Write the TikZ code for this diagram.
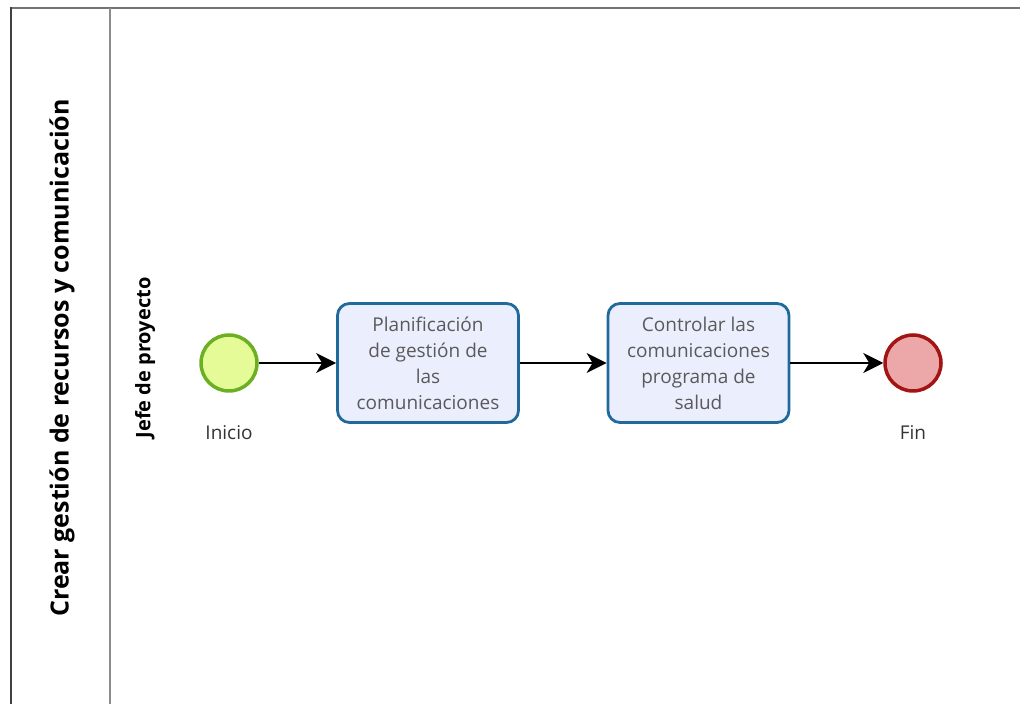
\documentclass[tikz,border=0pt]{standalone}
\usepackage{fontspec}
\setmainfont{Open Sans}
\usetikzlibrary{arrows.meta,positioning}
\definecolor{evS}{HTML}{6CAF22}
\definecolor{evSf}{HTML}{E4FB98}
\definecolor{evE}{HTML}{A31414}
\definecolor{evEf}{HTML}{ECA8A8}
\definecolor{tkB}{HTML}{1F6A9A}
\definecolor{tkF}{HTML}{EBEEFD}
\definecolor{txt}{HTML}{5A5A5A}

\begin{document}
\begin{tikzpicture}[x=1pt,y=1pt,
  task/.style={draw=tkB,fill=tkF,line width=2.8pt,rounded corners=12pt,minimum width=181pt,minimum height=119pt,
    align=center,text=txt,font=\fontsize{19}{26}\selectfont,inner sep=0pt},
  event/.style={circle,minimum size=56pt,line width=3.5pt,inner sep=0pt},
  evlabel/.style={font=\fontsize{19}{22}\selectfont,text=black!80,inner sep=0pt},
  flow/.style={-{Stealth[length=20pt,width=20pt,inset=6pt]},line width=1.6pt}]
\useasboundingbox (0,0) rectangle (1020,704);
% pool and lane
\draw[black!55,line width=2pt] (11,696) -- (1020,696);
\draw[black!75,line width=2pt] (11,0) -- (11,697);
\draw[black!45,line width=2pt] (110,0) -- (110,696);
\node[rotate=90,font=\bfseries\fontsize{25}{28}\selectfont] (pool) at (62,346) {Crear gestión de recursos y comunicación};
\node[rotate=90,font=\bfseries\fontsize{20}{23}\selectfont] (lane) at (145,346) {Jefe de proyecto};
% process
\node[event,draw=evS,fill=evSf] (start) at (229,341) {};
\node[task] (plan) at (428,341) {Planificación\\de gestión de\\las\\comunicaciones};
\node[task] (ctrl) at (698.5,341) {Controlar las\\comunicaciones\\programa de\\salud};
\node[event,draw=evE,fill=evEf] (end) at (913,341) {};
\node[evlabel,below=33pt of start] (startlbl) {Inicio};
\node[evlabel,below=33pt of end] (endlbl) {Fin};
\draw[flow] (start) -- (plan);
\draw[flow] (plan) -- (ctrl);
\draw[flow] (ctrl) -- (end);
\end{tikzpicture}
\end{document}
